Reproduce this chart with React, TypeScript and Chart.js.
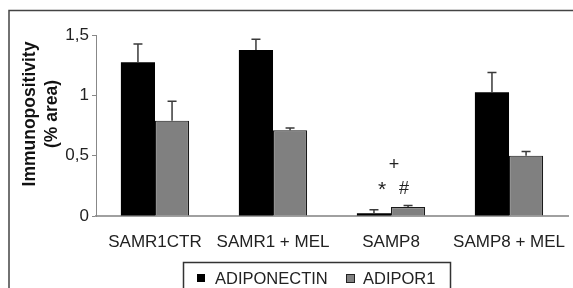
import React, { useEffect, useRef } from "react";
import { Chart, registerables } from "chart.js";

Chart.register(...registerables);

const categories = ["SAMR1CTR", "SAMR1 + MEL", "SAMP8", "SAMP8 + MEL"];
const adiponectin = [1.275, 1.375, 0.022, 1.025];
const adiponectinErr = [0.15, 0.09, 0.03, 0.165];
const adipor1 = [0.79, 0.71, 0.075, 0.5];
const adipor1Err = [0.16, 0.02, 0.011, 0.035];
const yTickValues = [0, 0.5, 1, 1.5];
const yTickLabels = ["0", "0,5", "1", "1,5"];
const seriesLabels = ["ADIPONECTIN", "ADIPOR1"];
const yTitle = ["Immunopositivity", "(% area)"];
const sigMarks = ["+", "*", "#"];
const sigLevels = [0.425, 0.215, 0.225];

const FONT = "'Liberation Sans', Arial, sans-serif";

const decorPlugin = {
  id: "decor",
  afterDatasetsDraw(chart: any) {
    const ctx = chart.ctx;
    const xs = chart.scales.x;
    const ys = chart.scales.y;
    const errs = [adiponectinErr, adipor1Err];
    ctx.save();
    ctx.strokeStyle = "#3a3a3a";
    ctx.lineWidth = 1.5;
    chart.data.datasets.forEach((ds: any, di: number) => {
      const meta = chart.getDatasetMeta(di);
      meta.data.forEach((bar: any, i: number) => {
        const v = ds.data[i];
        const top = ys.getPixelForValue(v + errs[di][i]);
        const base = ys.getPixelForValue(v);
        ctx.beginPath();
        ctx.moveTo(bar.x, base);
        ctx.lineTo(bar.x, top);
        ctx.moveTo(bar.x - 4.5, top);
        ctx.lineTo(bar.x + 4.5, top);
        ctx.stroke();
      });
    });
    ctx.restore();

    const cx = xs.getPixelForValue(2);
    const offsets = [3, -9, 13];
    const sizes = [18, 21, 18];
    ctx.save();
    ctx.fillStyle = "#222";
    ctx.textAlign = "center";
    ctx.textBaseline = "middle";
    sigMarks.forEach((m, i) => {
      ctx.font = `${sizes[i]}px ${FONT}`;
      ctx.fillText(m, cx + offsets[i], ys.getPixelForValue(sigLevels[i]));
    });
    ctx.restore();
  },
  afterDraw(chart: any) {
    const ctx = chart.ctx;
    ctx.save();
    ctx.strokeStyle = "#444";
    ctx.lineWidth = 1.5;
    ctx.beginPath();
    ctx.moveTo(9, 300);
    ctx.lineTo(9, 10.5);
    ctx.lineTo(580, 10.5);
    ctx.stroke();

    ctx.fillStyle = "#111";
    ctx.font = `bold 17.5px ${FONT}`;
    ctx.textAlign = "center";
    ctx.textBaseline = "middle";
    ctx.save();
    ctx.translate(30, 114);
    ctx.rotate(-Math.PI / 2);
    ctx.fillText(yTitle[0], 0, 0);
    ctx.restore();
    ctx.save();
    ctx.translate(52, 114);
    ctx.rotate(-Math.PI / 2);
    ctx.fillText(yTitle[1], 0, 0);
    ctx.restore();

    ctx.strokeStyle = "#333";
    ctx.lineWidth = 1.5;
    ctx.strokeRect(183.5, 262.5, 267, 40);
    const ds = chart.data.datasets;
    ctx.font = `16.5px ${FONT}`;
    ctx.textAlign = "left";
    ctx.textBaseline = "middle";
    const ly = 278;
    ctx.fillStyle = ds[0].backgroundColor;
    ctx.fillRect(197, ly - 4, 8, 8);
    ctx.fillStyle = "#222";
    ctx.fillText(ds[0].label, 215, ly + 1);
    ctx.fillStyle = ds[1].backgroundColor;
    ctx.fillRect(346, ly - 4, 8, 8);
    ctx.strokeStyle = "#222";
    ctx.lineWidth = 1;
    ctx.strokeRect(346.5, ly - 3.5, 8, 8);
    ctx.fillStyle = "#222";
    ctx.fillText(ds[1].label, 363, ly + 1);
    ctx.restore();
  },
};

export default function App() {
  const ref = useRef<HTMLCanvasElement | null>(null);
  useEffect(() => {
    document.body.style.margin = "0";
    document.body.style.overflow = "hidden";
    const canvas = ref.current!;
    const chart = new Chart(canvas, {
      type: "bar",
      data: {
        labels: categories,
        datasets: [
          {
            label: seriesLabels[0],
            data: adiponectin,
            backgroundColor: "#000000",
            borderColor: "#000000",
            borderWidth: 0,
            categoryPercentage: 0.578,
            barPercentage: 1,
          },
          {
            label: seriesLabels[1],
            data: adipor1,
            backgroundColor: "#808080",
            borderColor: "#1a1a1a",
            borderWidth: 1.2,
            categoryPercentage: 0.578,
            barPercentage: 1,
          },
        ],
      },
      options: {
        responsive: false,
        animation: false,
        devicePixelRatio: 1,
        layout: { padding: { top: 35, left: 0, right: 0, bottom: 0 } },
        plugins: {
          legend: { display: false },
          tooltip: { enabled: false },
        },
        scales: {
          x: {
            grid: { display: false },
            border: { display: true, color: "#a0a0a0", width: 2 },
            ticks: {
              color: "#222",
              font: { family: FONT, size: 17 },
              padding: 8,
              maxRotation: 0,
              autoSkip: false,
            },
            afterFit: (s: any) => {
              s.height = 72;
            },
          },
          y: {
            min: 0,
            max: 1.5,
            afterBuildTicks: (s: any) => {
              s.ticks = yTickValues.map((v) => ({ value: v }));
            },
            grid: {
              drawOnChartArea: false,
              drawTicks: true,
              tickLength: 4,
              color: "#888",
            },
            border: { display: true, color: "#888", width: 1 },
            ticks: {
              color: "#222",
              font: { family: FONT, size: 17 },
              padding: 3,
              callback: (_v: any, i: number) => yTickLabels[i],
            },
            afterFit: (s: any) => {
              s.width = 96;
            },
          },
        },
      },
      plugins: [decorPlugin],
    });
    return () => chart.destroy();
  }, []);
  return (
    <canvas
      ref={ref}
      width={573}
      height={288}
      style={{ display: "block", width: 573, height: 288 }}
    />
  );
}
